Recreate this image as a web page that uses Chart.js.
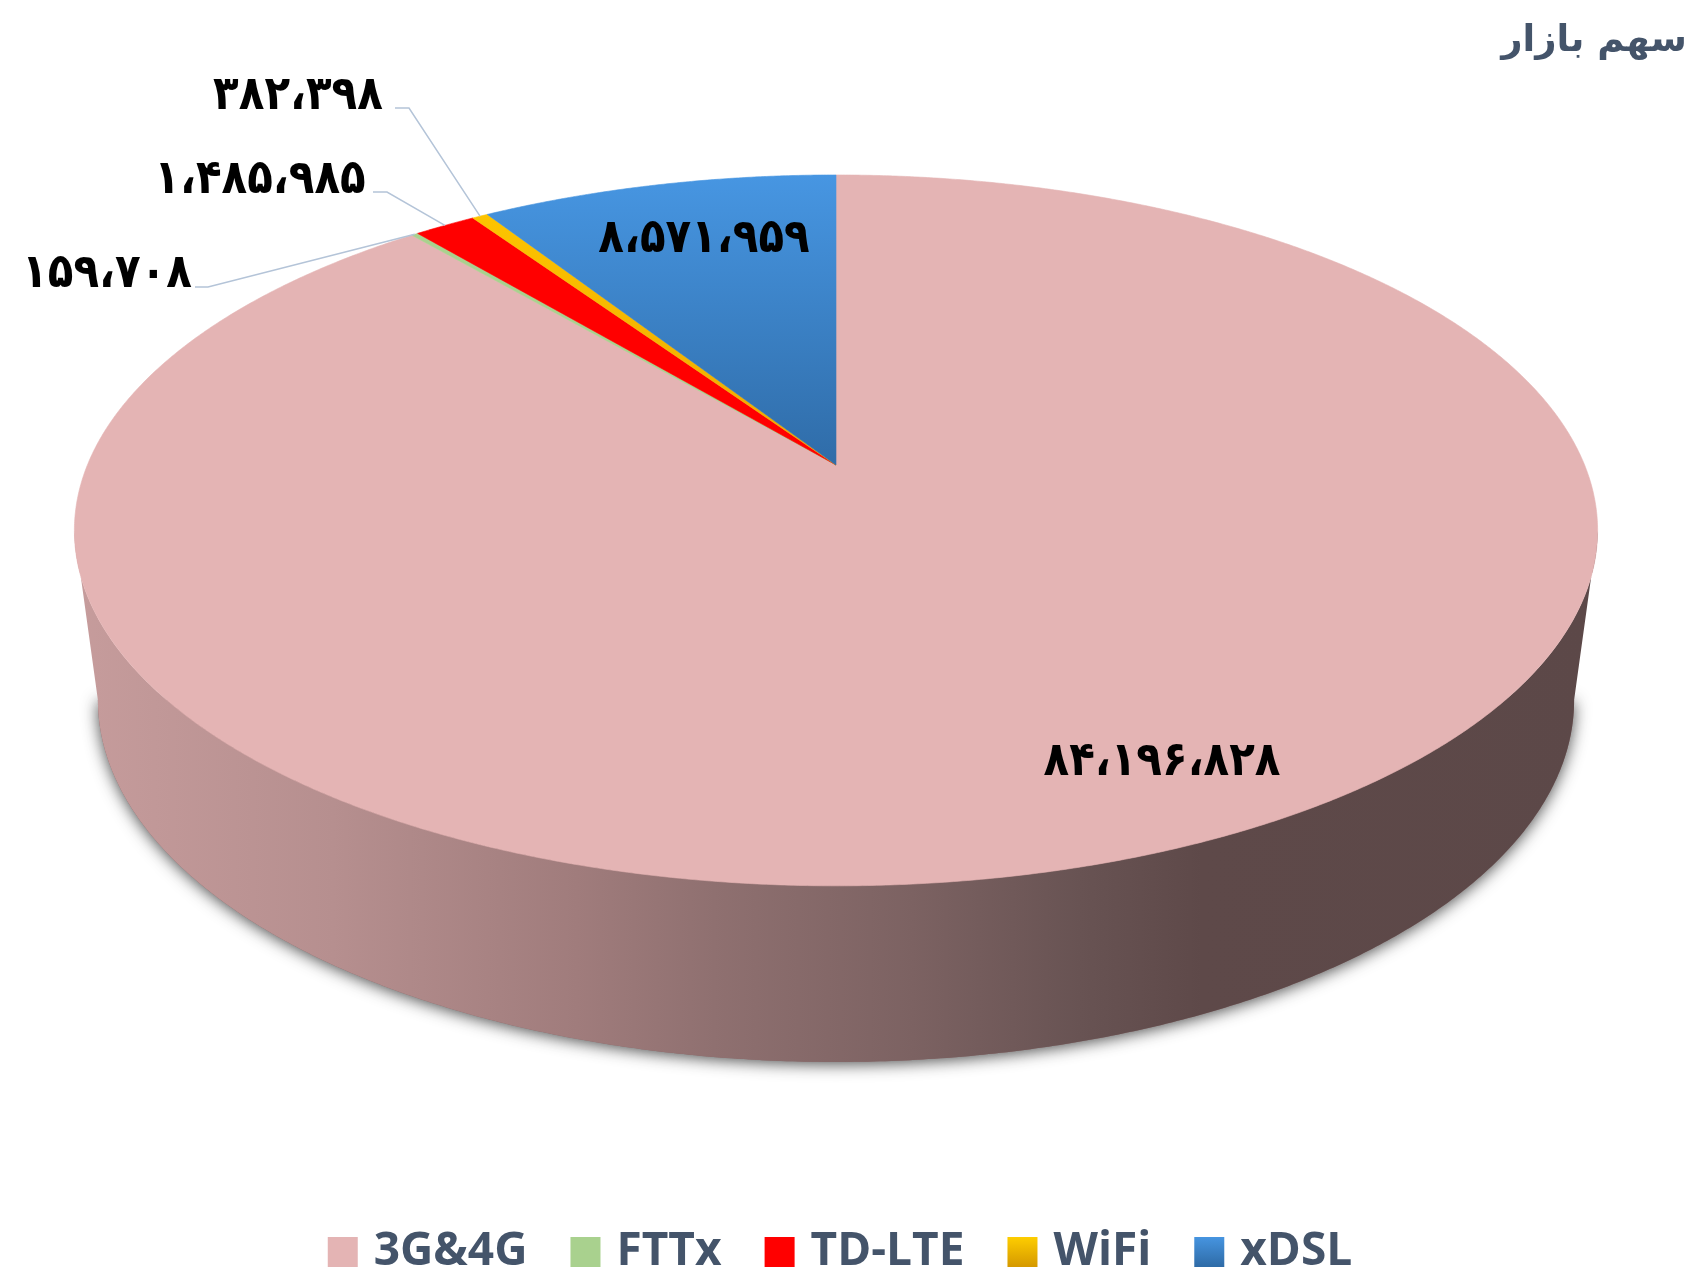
<!DOCTYPE html>
<html><head><meta charset="utf-8">
<style>html,body{margin:0;padding:0;background:#fff;overflow:hidden}#w{width:1691px;height:1274px;position:relative}</style>
<script src="https://cdn.jsdelivr.net/npm/chart.js@4"></script>
</head><body><div id="w"><canvas id="c" width="1691" height="1274"></canvas></div>
<script>
const categories = ['3G&4G','FTTx','TD-LTE','WiFi','xDSL'];
const values = [84196828,159708,1485985,382398,8571959];
const valueLabels = ['۸۴،۱۹۶،۸۲۸','۱۵۹،۷۰۸','۱،۴۸۵،۹۸۵','۳۸۲،۳۹۸','۸،۵۷۱،۹۵۹'];
const titleText = 'سهم بازار';

// perspective projection of the pie's top and bottom discs
const CX = 836, Q = 0.184;
const TOP = {a:748.6, b:343.4, cy:465};
const BOT = {a:725.5, b:349.7, cy:633.4};
const project = (d, ang) => {
  const X = Math.cos(ang), Y = Math.sin(ang), w = 1 - Q*Y;
  return [CX + d.a*X/w, d.cy + d.b*Y/w];
};

const canvas = document.getElementById('c');
const ctx0 = canvas.getContext('2d');
const vgrad = (y0,y1,c0,c1) => { const g = ctx0.createLinearGradient(0,y0,0,y1); g.addColorStop(0,c0); g.addColorStop(1,c1); return g; };
const pieFills = ['#e4b4b4','#a9d18e','#ff0000',vgrad(175,465,'#ffc800','#eda800'),vgrad(175,465,'#4796e2','#2f6ca8')];
const legendFills = ['#e4b4b4','#a9d18e','#ff0000',vgrad(1236,1266,'#ffcf00','#d69a00'),vgrad(1236,1266,'#4796e2','#2f6ca8')];

class PerspectiveArc extends Chart.ArcElement {
  static id = 'perspectiveArc';
  draw(ctx) {
    const {startAngle, endAngle} = this;
    const n = Math.max(2, Math.ceil((endAngle-startAngle)/0.005));
    ctx.save();
    ctx.beginPath();
    ctx.moveTo(CX, TOP.cy);
    for (let i=0;i<=n;i++) { const p = project(TOP, startAngle+(endAngle-startAngle)*i/n); ctx.lineTo(p[0],p[1]); }
    ctx.closePath();
    ctx.fillStyle = this.options.backgroundColor;
    ctx.strokeStyle = this.options.backgroundColor;
    ctx.lineWidth = 0.6;
    ctx.fill();
    ctx.stroke();
    ctx.restore();
  }
}
class PerspectivePie extends Chart.PieController {
  static id = 'perspectivePie';
  static defaults = {dataElementType:'perspectiveArc'};
  draw() {
    const ctx = this.chart.ctx;
    const t0 = Math.asin(Q), t1 = Math.PI - t0, N = 400;
    const rim = (d,f) => { const a = t0+(t1-t0)*f; return project(d,a); };
    // soft cast shadow of the lower disc
    ctx.save();
    ctx.shadowColor = 'rgba(30,30,30,0.8)';
    ctx.shadowBlur = 16;
    ctx.shadowOffsetY = 2;
    ctx.fillStyle = '#8a6a6a';
    ctx.beginPath();
    for (let i=0;i<=N;i++){ const p = rim(BOT,i/N); i?ctx.lineTo(p[0],p[1]):ctx.moveTo(p[0],p[1]); }
    ctx.closePath();
    ctx.fill();
    ctx.restore();
    // side wall
    const g = ctx.createLinearGradient(74,0,1598,0);
    [[0,'#c69c9c'],[0.17,'#b68f8f'],[0.33,'#a07c7c'],[0.42,'#8f7070'],[0.55,'#7c6262'],[0.66,'#685353'],[0.74,'#5e4949'],[1,'#5c4848']].forEach(s=>g.addColorStop(s[0],s[1]));
    ctx.save();
    ctx.fillStyle = g;
    ctx.beginPath();
    for (let i=0;i<=N;i++){ const p = rim(TOP,i/N); i?ctx.lineTo(p[0],p[1]):ctx.moveTo(p[0],p[1]); }
    for (let i=N;i>=0;i--){ const p = rim(BOT,i/N); ctx.lineTo(p[0],p[1]); }
    ctx.closePath();
    ctx.fill();
    ctx.restore();
    super.draw();
  }
}
Chart.register(PerspectiveArc, PerspectivePie);

// placement of the value labels; leader = elbow of the leader line
const labelSpots = [
  {cx:1162,cy:763},
  {cx:107,cy:275,leader:[[195,287],[208,287]]},
  {cx:260,cy:181,leader:[[373,192],[387,192]]},
  {cx:298,cy:97,leader:[[395,108],[409,108]]},
  {cx:704,cy:240}
];
const valueLabelPlugin = {
  id:'valueLabels',
  afterDatasetsDraw(chart){
    const ctx = chart.ctx, arcs = chart.getDatasetMeta(0).data;
    ctx.save();
    ctx.strokeStyle = '#b4c4d8';
    ctx.lineWidth = 1.5;
    arcs.forEach((arc,i)=>{
      const s = labelSpots[i];
      if (s.leader){
        const end = project(TOP,(arc.startAngle+arc.endAngle)/2);
        ctx.beginPath();
        ctx.moveTo(s.leader[0][0],s.leader[0][1]);
        ctx.lineTo(s.leader[1][0],s.leader[1][1]);
        ctx.lineTo(end[0],end[1]);
        ctx.stroke();
      }
      ctx.save();
      ctx.translate(s.cx,s.cy);
      ctx.scale(1,1.13);
      ctx.font = 'bold 42px "DejaVu Sans"';
      ctx.fillStyle = '#000';
      ctx.textAlign = 'center';
      ctx.textBaseline = 'middle';
      ctx.fillText(valueLabels[i],0,0);
      ctx.restore();
    });
    ctx.restore();
  }
};

new Chart(canvas,{
  type:'perspectivePie',
  data:{labels:categories,datasets:[{data:values,backgroundColor:pieFills,borderWidth:0,clip:false}]},
  plugins:[valueLabelPlugin],
  options:{
    responsive:false,
    animation:false,
    layout:{padding:{top:4,right:4,left:0,bottom:-11}},
    plugins:{
      tooltip:{enabled:false},
      title:{display:true,text:titleText,align:'end',color:'#44546a',font:{family:'"DejaVu Sans"',weight:'bold',size:37},padding:{top:15,bottom:0}},
      legend:{
        position:'bottom',
        labels:{
          boxWidth:16,boxHeight:16,padding:50,color:'#44546a',
          font:{family:'"Open Sans"',weight:'bold',size:46},
          generateLabels:(chart)=>categories.map((t,i)=>({text:t,fillStyle:legendFills[i],strokeStyle:legendFills[i],lineWidth:14,index:i,fontColor:'#44546a'}))
        }
      }
    }
  }
});
</script></body></html>
